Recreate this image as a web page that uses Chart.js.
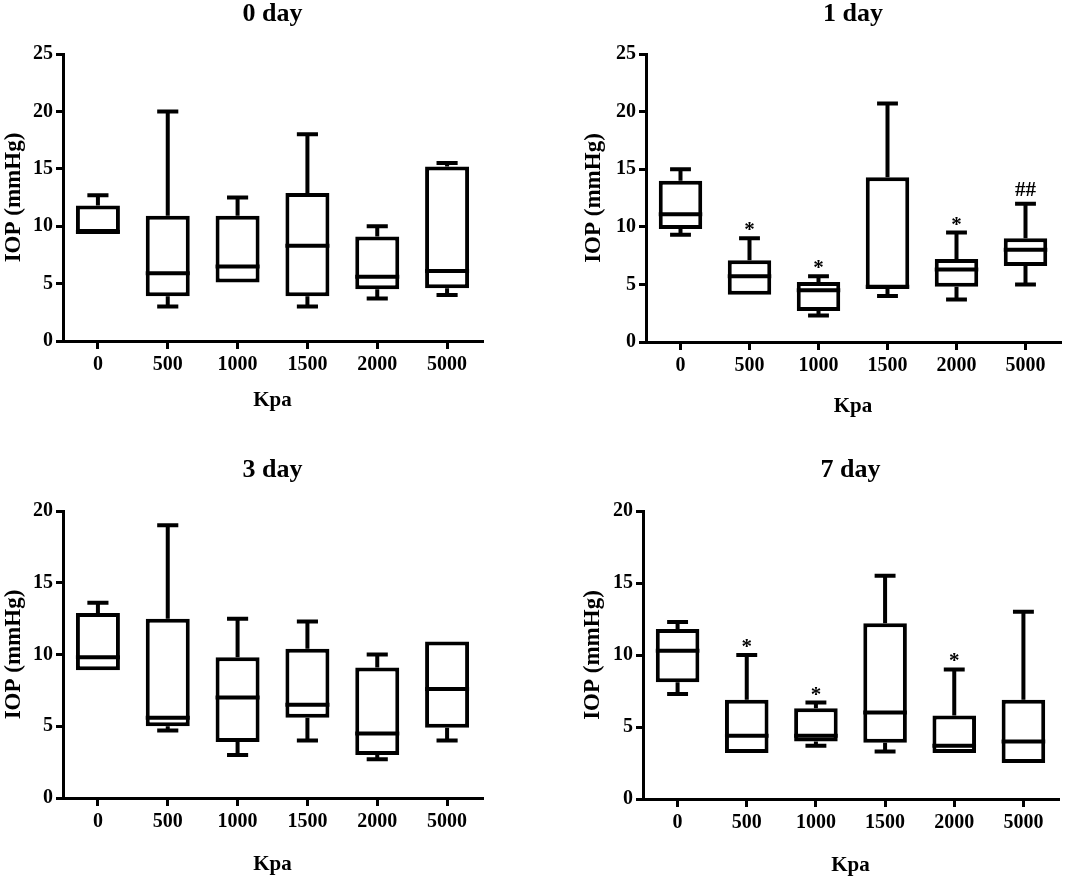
<!DOCTYPE html>
<html>
<head>
<meta charset="utf-8">
<title>IOP box plots</title>
<script src="https://cdn.jsdelivr.net/npm/chart.js@4.4.0/dist/chart.umd.min.js"></script>
<style>
  html, body { margin: 0; padding: 0; background: #fff; overflow: hidden; }
  #wrap { position: relative; width: 1084px; height: 880px; }
  canvas { position: absolute; }
</style>
</head>
<body>
<div id="wrap">
  <canvas id="c0" width="542" height="440" style="left:0;top:0"></canvas>
  <canvas id="c1" width="542" height="440" style="left:542px;top:0"></canvas>
  <canvas id="c3" width="542" height="440" style="left:0;top:440px"></canvas>
  <canvas id="c7" width="542" height="440" style="left:542px;top:440px"></canvas>
</div>
<script>
var kpa = ['0', '500', '1000', '1500', '2000', '5000'];

// each row: [min, q1, median, q3, max] (mmHg)
var day0 = [
  [9.4, 9.4, 9.5, 11.8, 12.7],
  [3.0, 3.9, 5.9, 10.9, 20.0],
  [5.1, 5.1, 6.5, 10.9, 12.5],
  [3.0, 3.9, 8.3, 12.9, 18.0],
  [3.7, 4.5, 5.6, 9.1, 10.0],
  [4.0, 4.6, 6.1, 15.2, 15.5]
];
var day1 = [
  [9.3, 9.8, 11.1, 14.0, 15.0],
  [4.1, 4.1, 5.7, 7.1, 9.0],
  [2.3, 2.7, 4.5, 5.2, 5.7],
  [4.0, 4.6, 4.8, 14.3, 20.7],
  [3.7, 4.8, 6.3, 7.2, 9.5],
  [5.0, 6.6, 8.0, 9.0, 12.0]
];
var day3 = [
  [8.9, 8.9, 9.8, 12.9, 13.6],
  [4.7, 5.0, 5.6, 12.5, 19.0],
  [3.0, 3.9, 7.0, 9.8, 12.5],
  [4.0, 5.6, 6.5, 10.4, 12.3],
  [2.7, 3.0, 4.5, 9.1, 10.0],
  [4.0, 4.9, 7.6, 10.9, 10.9]
];
var day7 = [
  [7.3, 8.1, 10.3, 11.8, 12.3],
  [3.2, 3.2, 4.4, 6.9, 10.0],
  [3.7, 4.0, 4.4, 6.3, 6.7],
  [3.3, 3.9, 6.0, 12.2, 15.5],
  [3.2, 3.2, 3.7, 5.8, 9.0],
  [2.5, 2.5, 4.0, 6.9, 13.0]
];

// significance marks over each box
var day0Marks = ['', '', '', '', '', ''];
var day1Marks = ['', '*', '*', '', '*', '##'];
var day3Marks = ['', '', '', '', '', ''];
var day7Marks = ['', '*', '*', '', '*', ''];

var serif = "'Liberation Serif', 'Times New Roman', serif";
Chart.defaults.font.family = serif;
Chart.defaults.color = '#000';

// whiskers, medians and marks drawn on top of the floating bars
var boxWhiskers = {
  id: 'boxWhiskers',
  afterDatasetsDraw: function(chart, args, opts) {
    var ctx = chart.ctx, y = chart.scales.y;
    var meta = chart.getDatasetMeta(0);
    ctx.save();
    ctx.strokeStyle = '#000';
    ctx.lineWidth = 4;
    opts.stats.forEach(function(s, i) {
      var bar = meta.data[i];
      var cx = bar.x, w = bar.width, cap = w * 0.24;
      var yMin = y.getPixelForValue(s[0]), yQ1 = y.getPixelForValue(s[1]);
      var yMed = y.getPixelForValue(s[2]), yQ3 = y.getPixelForValue(s[3]);
      var yMax = y.getPixelForValue(s[4]);
      ctx.beginPath();
      if (s[4] > s[3]) {
        ctx.moveTo(cx, yQ3); ctx.lineTo(cx, yMax);
        ctx.moveTo(cx - cap, yMax); ctx.lineTo(cx + cap, yMax);
      }
      if (s[0] < s[1]) {
        ctx.moveTo(cx, yQ1); ctx.lineTo(cx, yMin);
        ctx.moveTo(cx - cap, yMin); ctx.lineTo(cx + cap, yMin);
      }
      ctx.moveTo(cx - w / 2, yMed); ctx.lineTo(cx + w / 2, yMed);
      ctx.stroke();
      var m = opts.marks[i];
      if (m) {
        ctx.fillStyle = '#000';
        ctx.textAlign = 'center';
        ctx.textBaseline = 'alphabetic';
        ctx.font = 'bold 21px ' + serif;
        ctx.fillText(m, cx, yMax - (m === '*' ? 2 : 8));
      }
    });
    ctx.restore();
  }
};

// panel title centred over the plot area
var panelTitle = {
  id: 'panelTitle',
  afterDraw: function(chart, args, opts) {
    var ctx = chart.ctx, a = chart.chartArea;
    ctx.save();
    ctx.fillStyle = '#000';
    ctx.font = 'bold 26px ' + serif;
    ctx.textAlign = 'center';
    ctx.textBaseline = 'middle';
    ctx.fillText(opts.text, (a.left + a.right) / 2, opts.y);
    ctx.restore();
  }
};

function drawPanel(id, title, stats, marks, yMax, box) {
  var tickFont = { size: 20, weight: 'bold' };
  new Chart(document.getElementById(id), {
    type: 'bar',
    data: {
      labels: kpa,
      datasets: [{
        data: stats.map(function(s) { return [s[1], s[3]]; }),
        backgroundColor: '#fff',
        borderColor: '#000',
        borderWidth: 4,
        borderSkipped: false,
        barPercentage: 0.63,
        categoryPercentage: 1
      }]
    },
    plugins: [boxWhiskers, panelTitle],
    options: {
      responsive: false,
      animation: false,
      layout: { padding: { left: 0, right: box.w - box.r, top: box.t, bottom: 0 } },
      plugins: {
        legend: { display: false },
        tooltip: { enabled: false },
        title: { display: false },
        boxWhiskers: { stats: stats, marks: marks },
        panelTitle: { text: title, y: box.titleY }
      },
      scales: {
        x: {
          ticks: { font: tickFont, padding: 4 },
          grid: { offset: false, drawOnChartArea: false, drawTicks: true, tickLength: 8, lineWidth: 3, color: '#000' },
          border: { display: true, width: 3, color: '#000' },
          title: { display: true, text: 'Kpa', font: { size: 21, weight: 'bold' }, padding: { top: 0, bottom: box.h - box.xTitleY - 12.6 } },
          afterFit: function(s) { s.height = box.h - box.b; }
        },
        y: {
          min: 0,
          max: yMax,
          ticks: { stepSize: 5, font: tickFont, padding: 3 },
          grid: { drawOnChartArea: false, drawTicks: true, tickLength: 7, lineWidth: 3, color: '#000' },
          border: { display: true, width: 3, color: '#000' },
          title: { display: true, text: 'IOP (mmHg)', font: { size: 23, weight: 'bold' }, padding: { top: box.yTitleX - 13.8, bottom: 0 } },
          afterFit: function(s) { s.width = box.l; }
        }
      }
    }
  });
}

// plot boxes in canvas coordinates
drawPanel('c0', '0 day', day0, day0Marks, 25, { w: 542, h: 440, l: 63, r: 482, t: 54, b: 341, titleY: 14, yTitleX: 14, xTitleY: 401 });
drawPanel('c1', '1 day', day1, day1Marks, 25, { w: 542, h: 440, l: 104, r: 518, t: 54, b: 342, titleY: 14, yTitleX: 52, xTitleY: 407 });
drawPanel('c3', '3 day', day3, day3Marks, 20, { w: 542, h: 440, l: 63, r: 482, t: 71, b: 358, titleY: 30, yTitleX: 14, xTitleY: 425 });
drawPanel('c7', '7 day', day7, day7Marks, 20, { w: 542, h: 440, l: 101, r: 516, t: 71, b: 359, titleY: 30, yTitleX: 51, xTitleY: 426 });
</script>
</body>
</html>
